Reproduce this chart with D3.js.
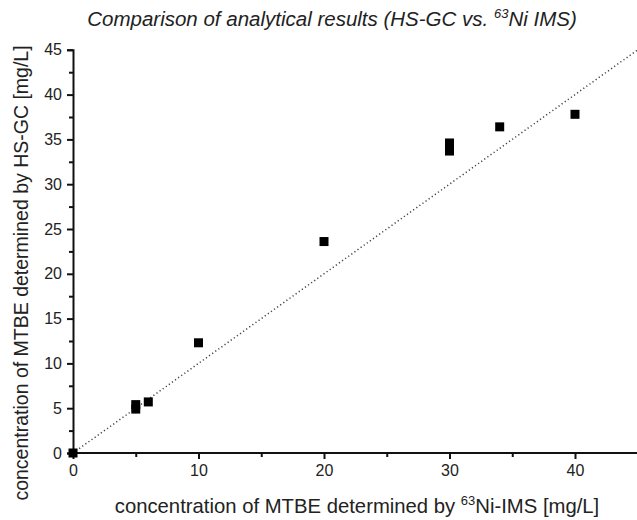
<!DOCTYPE html>
<html><head><meta charset="utf-8">
<script src="https://cdn.jsdelivr.net/npm/d3@7"></script>
<style>body{margin:0;background:#fff;} text{font-family:"Liberation Sans",Arial,sans-serif;}</style>
</head><body>
<svg id="c" width="637" height="520"></svg>
<script>
const xValues = [0, 5, 5, 6, 10, 20, 30, 30, 30, 34, 40];
const yValues = [0, 5.4, 4.9, 5.7, 12.3, 23.6, 34.6, 34.1, 33.7, 36.4, 37.8];
const xTicks = [0, 10, 20, 30, 40];
const yTicks = [0, 5, 10, 15, 20, 25, 30, 35, 40, 45];
const refLine = [0, 45];

const svg = d3.select("#c");
const W = 637, H = 520;
const x = d3.scaleLinear().domain([0, 45]).range([73, 73 + 45 * 12.55]);
const y = d3.scaleLinear().domain([0, 45]).range([453, 49.8]);

// reference line
svg.append("line")
  .attr("x1", x(refLine[0])).attr("y1", y(refLine[0]))
  .attr("x2", x(refLine[1])).attr("y2", y(refLine[1]))
  .attr("stroke", "#444").attr("stroke-width", 1.5).attr("stroke-dasharray", "1.2,2.6");

// axes
const xAxis = d3.axisBottom(x).tickValues(xTicks).tickSize(6).tickPadding(6).tickFormat(d3.format("d"));
const gx = svg.append("g").attr("transform", `translate(0,${y(0)})`).call(xAxis);
gx.select(".domain").attr("d", `M${x(0)},0H${W}`);
const gxm = svg.append("g").attr("transform", `translate(0,${y(0)})`)
  .call(d3.axisBottom(x).tickValues([5, 15, 25, 35, 45]).tickSize(4).tickFormat(""));
gxm.select(".domain").remove();

const yAxis = d3.axisLeft(y).tickValues(yTicks).tickSize(6).tickPadding(5).tickFormat(d3.format("d"));
const gy = svg.append("g").attr("transform", `translate(${x(0)},0)`).call(yAxis);
const gym = svg.append("g").attr("transform", `translate(${x(0)},0)`)
  .call(d3.axisLeft(y).tickValues(d3.range(2.5, 45, 5)).tickSize(4).tickFormat(""));
gym.select(".domain").remove();

svg.selectAll(".domain").attr("stroke", "#111").attr("stroke-width", 2);
svg.selectAll(".tick line").attr("stroke", "#111").attr("stroke-width", 2);
svg.selectAll(".tick text").attr("font-size", 16).attr("fill", "#222")
  .attr("font-family", "Liberation Sans, Arial, sans-serif");

// points
svg.append("g").selectAll("rect").data(xValues).join("rect")
  .attr("x", (d) => x(d) - 4.5).attr("y", (d, i) => y(yValues[i]) - 4.5)
  .attr("width", 9).attr("height", 9).attr("fill", "#000");

// title
const t = svg.append("text").attr("x", 332).attr("y", 26).attr("text-anchor", "middle")
  .attr("font-size", 20.5).attr("font-style", "italic").attr("fill", "#222");
t.append("tspan").text("Comparison of analytical results (HS-GC vs. ");
t.append("tspan").text("63").attr("font-size", 13).attr("dy", -8);
t.append("tspan").text("Ni IMS)").attr("dy", 8);

// x label
const xl = svg.append("text").attr("x", 357).attr("y", 513).attr("text-anchor", "middle")
  .attr("font-size", 20.3).attr("fill", "#222");
xl.append("tspan").text("concentration of MTBE determined by ");
xl.append("tspan").text("63").attr("font-size", 13).attr("dy", -8);
xl.append("tspan").text("Ni-IMS [mg/L]").attr("dy", 8);

// y label
svg.append("text").attr("transform", "translate(28,273) rotate(-90)").attr("text-anchor", "middle")
  .attr("font-size", 19.5).attr("fill", "#222")
  .text("concentration of MTBE determined by HS-GC [mg/L]");
</script>
</body></html>
